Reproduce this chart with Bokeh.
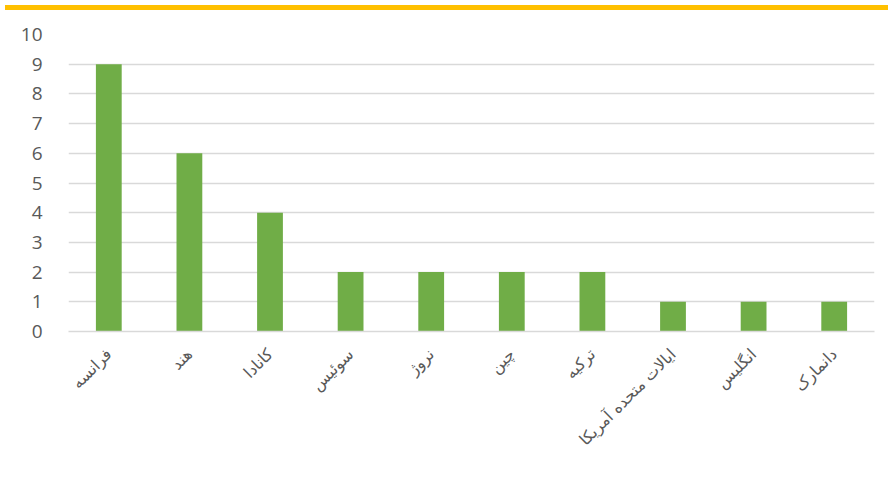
import math
from bokeh.plotting import figure
from bokeh.models import ColumnDataSource, Div, FixedTicker
from bokeh.layouts import column
from bokeh.embed import file_html
from bokeh.resources import INLINE

countries = ["فرانسه", "هند", "کانادا", "سوئیس", "نروژ", "چین", "ترکیه",
             "ایالات متحده آمریکا", "انگلیس", "دانمارک"]
counts = [9, 6, 4, 2, 2, 2, 2, 1, 1, 1]
y_ticks = [0, 1, 2, 3, 4, 5, 6, 7, 8, 9, 10]

src = ColumnDataSource(dict(country=countries, count=counts))

p = figure(x_range=countries, y_range=(0, 10), width=883, height=465,
           output_backend="svg", toolbar_location=None,
           min_border_left=68, min_border_right=9, min_border_top=19,
           min_border_bottom=149)
p.vbar(x="country", top="count", width=0.32, source=src,
       fill_color="#70AD47", line_color=None)

p.outline_line_color = None
p.background_fill_color = "white"
p.xgrid.grid_line_color = None
p.ygrid.grid_line_color = "#D9D9D9"
p.ygrid.grid_line_width = 1.3
p.yaxis.ticker = FixedTicker(ticks=y_ticks)
p.yaxis.axis_line_color = None
p.yaxis.major_tick_line_color = None
p.yaxis.minor_tick_line_color = None
p.yaxis.major_label_text_font = "Open Sans"
p.yaxis.major_label_text_font_size = "19px"
p.yaxis.major_label_text_color = "#595959"
p.yaxis.major_label_standoff = 20

p.xaxis.axis_line_color = "#D9D9D9"
p.xaxis.axis_line_width = 1.3
p.xaxis.major_tick_line_color = None
p.xaxis.minor_tick_line_color = None
p.xaxis.major_label_orientation = math.pi / 4
p.xaxis.major_label_text_font = "DejaVu Sans"
p.xaxis.major_label_text_font_size = "16px"
p.xaxis.major_label_text_color = "#595959"
p.xaxis.major_label_standoff = 14

bar = Div(text="", width=883, height=5,
          styles={"background-color": "#FFC000"})

layout = column(bar, p, spacing=0)
open("out.html", "w").write(file_html(layout, INLINE))
